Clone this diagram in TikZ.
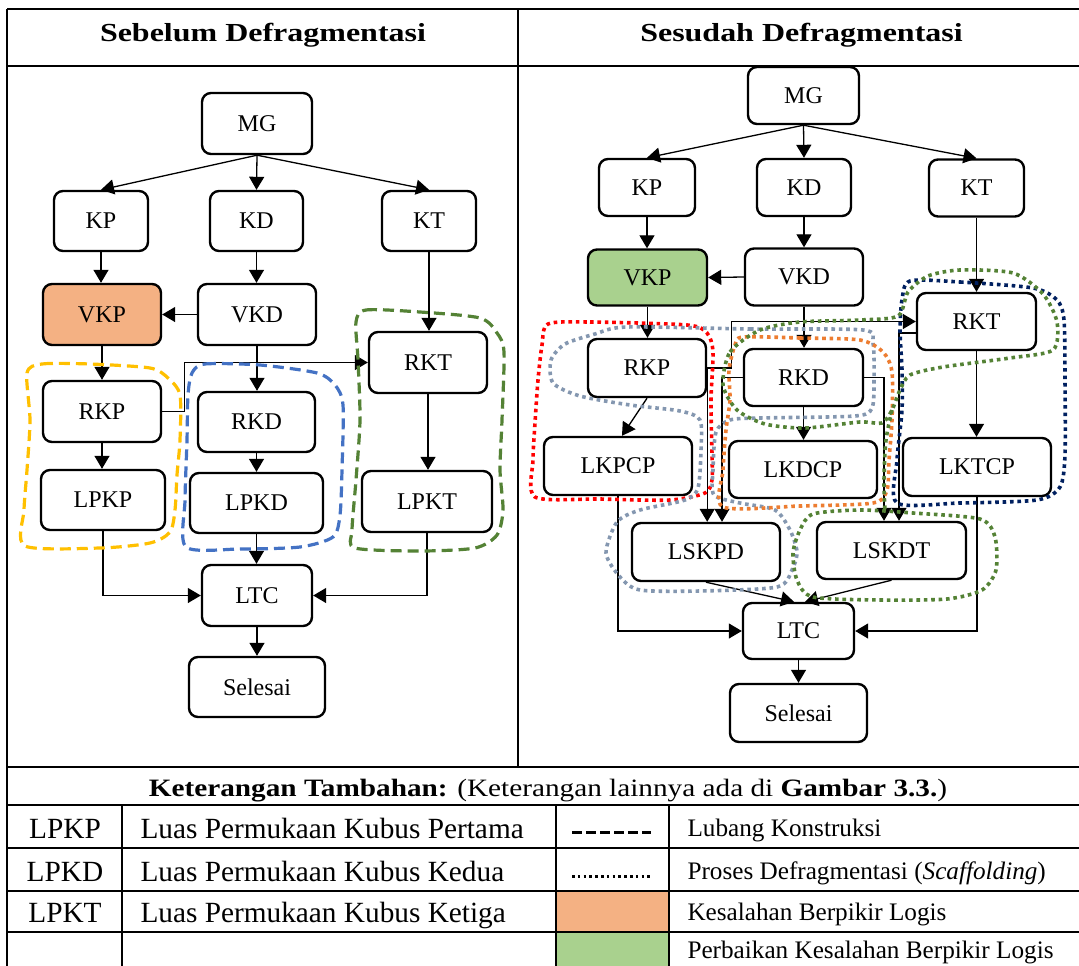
\documentclass[tikz,border=0pt]{standalone}
\usepackage{fontspec}
\setmainfont{Liberation Serif}
\newfontfamily\titlefont[FakeStretch=1.23]{Liberation Serif}
\newfontfamily\headfont[FakeStretch=1.17]{Liberation Serif}
\usetikzlibrary{arrows.meta}

\definecolor{cOrangeFill}{HTML}{F4B183}
\definecolor{cGreenFill}{HTML}{A9D18E}
\definecolor{cYellow}{HTML}{FFC000}
\definecolor{cBlue}{HTML}{4472C4}
\definecolor{cGreen}{HTML}{548235}
\definecolor{cRed}{HTML}{FF0000}
\definecolor{cGray}{HTML}{8497B0}
\definecolor{cOrange}{HTML}{ED7D31}
\definecolor{cNavy}{HTML}{002060}

\tikzset{
  box/.style={draw, line width=2.4pt, rounded corners=9pt, fill=white,
    inner sep=0pt, font=\fontsize{24}{28}\selectfont},
  conn/.style={line width=1.3pt, -{Triangle[length=13pt,width=15pt]}},
  dashblob/.style={line width=3.2pt, dash pattern=on 11pt off 6pt},
  dotblob/.style={line width=3.6pt, dash pattern=on 3.6pt off 3.8pt},
  frame/.style={line width=2.5pt},
  cell/.style={line width=2pt},
  ttl/.style={anchor=base, font=\titlefont\bfseries\fontsize{26}{30}\selectfont},
  head/.style={anchor=base, font=\headfont\fontsize{25}{29}\selectfont},
  tab/.style={anchor=base, font=\fontsize{29.3}{34}\selectfont},
  note/.style={anchor=base west, font=\fontsize{25.2}{30}\selectfont},
}

\begin{document}
\begin{tikzpicture}[x=1pt,y=-1pt]
\fill[white] (0,0) rectangle (1079,966);
\useasboundingbox (0,0) rectangle (1079,966);

% ---------- left flow: before defragmentation ----------
\node[box,minimum width=110pt,minimum height=61pt] (lMG) at (257,123.5) {MG};
\node[box,minimum width=94pt,minimum height=60pt] (lKP) at (101,221) {KP};
\node[box,minimum width=93pt,minimum height=60pt] (lKD) at (256.5,221) {KD};
\node[box,minimum width=94pt,minimum height=60pt] (lKT) at (429,221) {KT};
\node[box,fill=cOrangeFill,minimum width=118pt,minimum height=61pt] (lVKP) at (102,314.5) {VKP};
\node[box,minimum width=118pt,minimum height=61pt] (lVKD) at (257,314.5) {VKD};
\node[box,minimum width=118pt,minimum height=61pt] (lRKT) at (428,362.5) {RKT};
\node[box,minimum width=118pt,minimum height=61pt] (lRKP) at (102,411.5) {RKP};
\node[box,minimum width=117pt,minimum height=60pt] (lRKD) at (256.5,422) {RKD};
\node[box,minimum width=124pt,minimum height=60pt] (lLPKP) at (103,500) {LPKP};
\node[box,minimum width=133pt,minimum height=60pt] (lLPKD) at (256.5,503) {LPKD};
\node[box,minimum width=130pt,minimum height=61pt] (lLPKT) at (427,501.5) {LPKT};
\node[box,minimum width=110pt,minimum height=61pt] (lLTC) at (257,595.5) {LTC};
\node[box,minimum width=136pt,minimum height=60pt] (lSEL) at (257,687) {Selesai};

\draw[conn] (lMG.south) -- (lKP.north);
\draw[conn] (lMG.south) -- (lKD.north);
\draw[conn] (lMG.south) -- (lKT.north);
\draw[conn] (lKP.south) -- (lKP.south |- lVKP.north);
\draw[conn] (lKD.south) -- (lKD.south |- lVKD.north);
\draw[conn] (lVKD.west) -- (lVKP.east);
\draw[conn] (lKT.south) -- (lKT.south |- lRKT.north);
\draw[conn] (lVKP.south) -- (lVKP.south |- lRKP.north);
\draw[conn] (lRKP.south) -- (lRKP.south |- lLPKP.north);
\draw[conn] (lVKD.south) -- (lVKD.south |- lRKD.north);
\draw[conn] (lRKD.south) -- (lRKD.south |- lLPKD.north);
\draw[conn] (lRKT.south) -- (lRKT.south |- lLPKT.north);
\draw[conn] (lRKP.east) -- ++(22,0) |- (lRKT.west);
\draw[conn] (lLPKD.south) -- (lLPKD.south |- lLTC.north);
\draw[conn] (lLPKP.south) |- (lLTC.west);
\draw[conn] (lLPKT.south) |- (lLTC.east);
\draw[conn] (lLTC.south) -- (lLTC.south |- lSEL.north);

% construction holes
\draw[dashblob, draw=cYellow] plot[smooth cycle, tension=0.45] coordinates {
  (27,373) (42,364) (90,364) (150,368) (168,378) (180,395) (180,440)
  (177,475) (175,510) (170,532) (150,543) (100,548) (25,546) (24,510)
  (27,470) (30,420)};
\draw[dashblob, draw=cBlue] plot[smooth cycle, tension=0.45] coordinates {
  (192,373) (205,364) (260,365) (317,373) (335,385) (343,405) (342,470)
  (340,515) (333,537) (300,547) (240,549) (186,547) (185,500) (187,440)
  (188,395)};
\draw[dashblob, draw=cGreen] plot[smooth cycle, tension=0.45] coordinates {
  (356,322) (366,310) (420,312) (480,318) (497,333) (504,352) (502,420)
  (500,470) (503,510) (497,535) (475,548) (420,551) (355,548) (352,530)
  (356,480) (360,420) (358,360)};

% ---------- right flow: after defragmentation ----------
\node[box,minimum width=111pt,minimum height=57pt] (rMG) at (803.5,95.5) {MG};
\node[box,minimum width=96pt,minimum height=57pt] (rKP) at (647,187.5) {KP};
\node[box,minimum width=94pt,minimum height=57pt] (rKD) at (804,187.5) {KD};
\node[box,minimum width=95pt,minimum height=57pt] (rKT) at (976.5,188) {KT};
\node[box,fill=cGreenFill,minimum width=119pt,minimum height=56pt] (rVKP) at (647.5,277.5) {VKP};
\node[box,minimum width=118pt,minimum height=57pt] (rVKD) at (804,277) {VKD};
\node[box,minimum width=119pt,minimum height=57pt] (rRKT) at (976.5,321.5) {RKT};
\node[box,minimum width=118pt,minimum height=58pt] (rRKP) at (647,368) {RKP};
\node[box,minimum width=119pt,minimum height=57pt] (rRKD) at (803.5,377.5) {RKD};
\node[box,minimum width=148pt,minimum height=58pt] (rLKPCP) at (618,466) {LKPCP};
\node[box,minimum width=148pt,minimum height=57pt] (rLKDCP) at (803,469.5) {LKDCP};
\node[box,minimum width=148pt,minimum height=58pt] (rLKTCP) at (977,467) {LKTCP};
\node[box,minimum width=148pt,minimum height=58pt] (rLSKPD) at (706,552) {LSKPD};
\node[box,minimum width=149pt,minimum height=57pt] (rLSKDT) at (891.5,550.5) {LSKDT};
\node[box,minimum width=111pt,minimum height=56pt] (rLTC) at (798.5,631) {LTC};
\node[box,minimum width=137pt,minimum height=58pt] (rSEL) at (798.5,713) {Selesai};

\draw[conn] (rMG.south) -- (rKP.north);
\draw[conn] (rMG.south) -- (rKD.north);
\draw[conn] (rMG.south) -- (rKT.north);
\draw[conn] (rKP.south) -- (rKP.south |- rVKP.north);
\draw[conn] (rKD.south) -- (rKD.south |- rVKD.north);
\draw[conn] (rVKD.west) -- (rVKP.east);
\draw[conn] (rKT.south) -- (rKT.south |- rRKT.north);
\draw[conn] (rVKP.south) -- (rVKP.south |- rRKP.north);
\draw[conn] (rVKD.south) -- (rVKD.south |- rRKD.north);
\draw[conn] (rRKP.south) -- ([xshift=4pt]rLKPCP.north);
\draw[conn] (rRKD.south) -- (rRKD.south |- rLKDCP.north);
\draw[conn] (rRKT.south) -- (rRKT.south |- rLKTCP.north);
\draw[conn] (rRKP.east) -- ++(24,0) |- (rRKT.west);
\draw[conn] (rRKP.east) -- (rRKP.east |- rLSKPD.north);
\draw[conn] (rRKD.west) -| ([xshift=16pt]rLSKPD.north);
\draw[conn] (rRKD.east) -| ([xshift=-7.5pt]rLSKDT.north);
\draw[conn] ([yshift=-11.5pt]rRKT.west) -| ([xshift=7.5pt]rLSKDT.north);
\draw[conn] (rLSKPD.south) -- ([xshift=-4.5pt]rLTC.north);
\draw[conn] (rLSKDT.south) -- ([xshift=6.5pt]rLTC.north);
\draw[conn] (rLKPCP.south) |- (rLTC.west);
\draw[conn] (rLKTCP.south) |- (rLTC.east);
\draw[conn] (rLTC.south) -- (rLTC.south |- rSEL.north);

% scaffolding outlines
\draw[dotblob, draw=cRed] plot[smooth cycle, tension=0.45] coordinates {
  (548,324) (590,322) (687,325) (707,333) (713,352) (711,400) (712,455)
  (712,480) (705,493) (670,500) (600,499) (535,497) (533,460) (535,423)
  (538,380) (542,345)};
\draw[dotblob, draw=cGray] plot[smooth cycle, tension=0.45] coordinates {
  (627,327) (750,329) (863,330) (873,343) (874,380) (872,408) (855,416)
  (760,418) (730,420) (716,432) (713,470) (714,495) (740,503) (775,510)
  (790,530) (797,552) (792,570) (777,587) (700,591) (640,590) (620,577)
  (606,553) (617,522) (640,510) (685,500) (698,488) (701,450) (700,420)
  (680,411) (630,405) (580,396) (553,383) (551,360) (565,344) (595,334)};
\draw[dotblob, draw=cOrange] plot[smooth cycle, tension=0.45] coordinates {
  (743,337) (800,338) (860,340) (883,352) (892,372) (892,420) (889,460)
  (887,490) (873,503) (800,506) (723,507) (723,470) (726,430) (730,400)
  (729,370) (735,345)};
\draw[dotblob, draw=cNavy] plot[smooth cycle, tension=0.45] coordinates {
  (910,281) (960,282) (1033,288) (1057,300) (1064,320) (1065,380)
  (1065,455) (1060,487) (1037,500) (960,503) (897,503) (897,460)
  (902,410) (902,370) (900,330) (902,300)};
\draw[dotblob, draw=cGreen] plot[smooth cycle, tension=0.45] coordinates {
  (723,385) (730,352) (760,330) (800,322) (860,320) (898,316) (908,292)
  (928,276) (960,270) (1013,273) (1043,294) (1057,322) (1053,350)
  (1010,358) (943,367) (910,375) (900,390) (892,410) (882,423) (860,422)
  (805,428) (765,424) (737,410)};
\draw[dotblob, draw=cGreen] plot[smooth, tension=0.5] coordinates {
  (892,410) (886,440) (884,480) (885,512)};
\draw[dotblob, draw=cGreen] plot[smooth cycle, tension=0.45] coordinates {
  (813,514) (860,510) (913,513) (980,519) (995,537) (996,570) (982,590)
  (947,599) (880,600) (813,597) (797,580) (793,553) (800,530)};

% ---------- frame ----------
\draw[frame] (7,9) -- (1079,9);
\draw[frame] (7,66) -- (1079,66);
\draw[frame] (7,767) -- (1079,767);
\draw[frame] (7,9) -- (7,966);
\draw[frame] (518,9) -- (518,767);
\node[ttl] (tLeft) at (263,41.5) {Sebelum Defragmentasi};
\node[ttl] (tRight) at (801.5,41.5) {Sesudah Defragmentasi};

% ---------- legend table ----------
\fill[cOrangeFill] (556,891) rectangle (669,932);
\fill[cGreenFill] (556,932) rectangle (669,966);
\foreach \yy in {805,848,891,932} \draw[frame] (7,\yy) -- (1079,\yy);
\foreach \xx in {122,556,669} \draw[cell] (\xx,805) -- (\xx,966);

\node[head] (hdr) at (548,796) {\textbf{Keterangan Tambahan:} (Keterangan lainnya ada di \textbf{Gambar 3.3.})};
\node[tab] (k1) at (65,838) {LPKP};
\node[tab] (k2) at (65,881) {LPKD};
\node[tab] (k3) at (65,922.5) {LPKT};
\node[tab,anchor=base west] (v1) at (137,838) {Luas Permukaan Kubus Pertama};
\node[tab,anchor=base west] (v2) at (137,881) {Luas Permukaan Kubus Kedua};
\node[tab,anchor=base west] (v3) at (137,922.5) {Luas Permukaan Kubus Ketiga};

\draw[line width=3pt, dash pattern=on 10pt off 4pt] (572,832) -- (651,832);
\draw[line width=3pt, dash pattern=on 2.6pt off 3.2pt] (572,876) -- (651,876);
\node[note] (n1) at (684,836) {Lubang Konstruksi};
\node[note] (n2) at (684,879) {Proses Defragmentasi (\textit{Scaffolding})};
\node[note] (n3) at (684,920) {Kesalahan Berpikir Logis};
\node[note] (n4) at (684,958) {Perbaikan Kesalahan Berpikir Logis};
\end{tikzpicture}
\end{document}
